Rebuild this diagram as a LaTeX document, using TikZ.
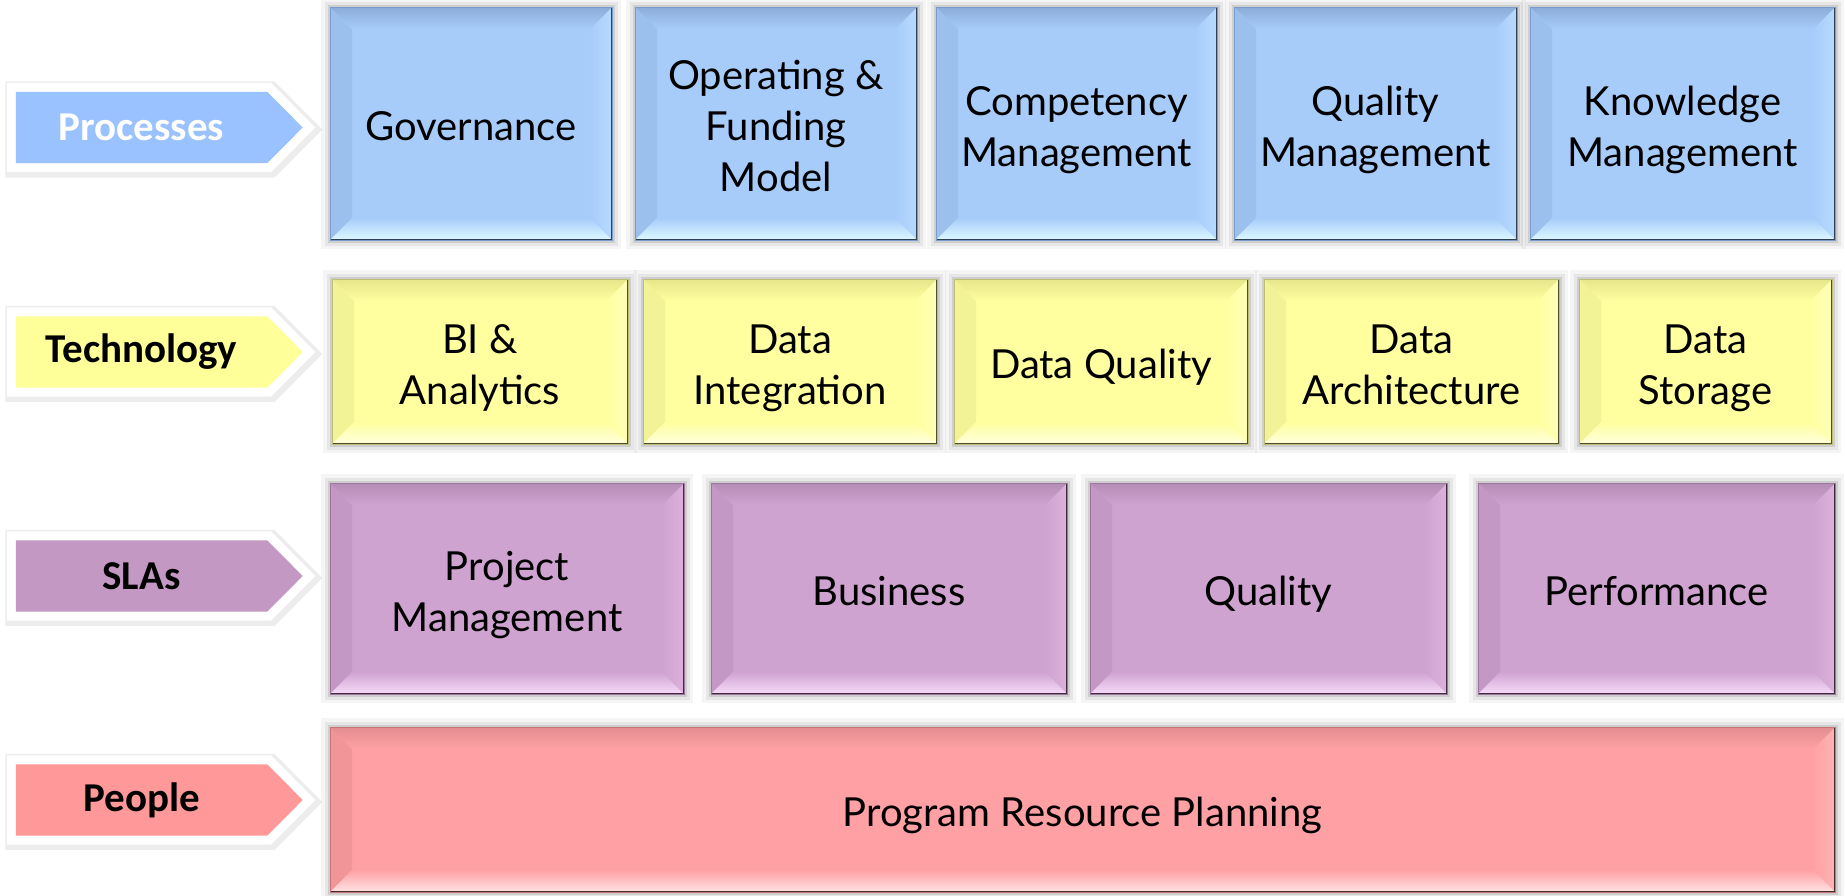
\documentclass[tikz,border=0pt]{standalone}
\usepackage{fontspec}
\setmainfont{Lato}
\newfontfamily\labfont{Carlito}
\usetikzlibrary{calc}
\pgfdeclarelayer{bg}
\pgfsetlayers{bg,main}

% blue
\definecolor{bBase}{HTML}{A7CCFA}\definecolor{bTop}{HTML}{8CACD9}\definecolor{bBot}{HTML}{DDF9FF}
\definecolor{bLeft}{HTML}{9CC0EE}\definecolor{bRight}{HTML}{B8DAFF}\definecolor{bEdge}{HTML}{7A9CC8}\definecolor{bDark}{HTML}{2F3F55}
% yellow
\definecolor{yBase}{HTML}{FFFFA0}\definecolor{yTop}{HTML}{E6E68A}\definecolor{yBot}{HTML}{FFFFDD}
\definecolor{yLeft}{HTML}{F2F296}\definecolor{yRight}{HTML}{FFFFB8}\definecolor{yEdge}{HTML}{BDBD78}\definecolor{yDark}{HTML}{4F4F30}
% purple
\definecolor{pBase}{HTML}{CFA3D0}\definecolor{pTop}{HTML}{B48DB5}\definecolor{pBot}{HTML}{F7DBFA}
\definecolor{pLeft}{HTML}{C398C4}\definecolor{pRight}{HTML}{DBB2DC}\definecolor{pEdge}{HTML}{9F74A0}\definecolor{pDark}{HTML}{3F2A40}
% red
\definecolor{rBase}{HTML}{FFA1A4}\definecolor{rTop}{HTML}{E38D90}\definecolor{rBot}{HTML}{FFE3E5}
\definecolor{rLeft}{HTML}{F29598}\definecolor{rRight}{HTML}{FFB3B6}\definecolor{rEdge}{HTML}{C47578}\definecolor{rDark}{HTML}{4A2C2D}
% labels
\definecolor{lblB}{HTML}{99C2FF}\definecolor{lblY}{HTML}{FFFF99}\definecolor{lblP}{HTML}{C399C4}\definecolor{lblR}{HTML}{FF9999}

\newcommand\tagpath[1]{(#1.north west) -- (#1.north east) -- ($(#1.east)+(35.5pt,0pt)$) -- (#1.south east) -- (#1.south west) -- cycle}
\newcommand\bt[1]{\raisebox{-7pt}[\height][\depth]{\begin{tabular}{@{}c@{}}#1\end{tabular}}}

\tikzset{
  glow/.style={
    preaction={draw=black,draw opacity=0.04,line width=18pt},
    preaction={draw=black,draw opacity=0.06,line width=11pt},
    preaction={draw=black,draw opacity=0.10,line width=5pt}},
  bev/.style={glow, rectangle, fill=#1Base, draw=#1Edge, line width=1pt,
    inner sep=0pt, outer sep=0pt, text=black,
    font=\fontsize{40}{51}\selectfont,
    path picture={
      \coordinate (bvNW) at (path picture bounding box.north west);
      \coordinate (bvNE) at (path picture bounding box.north east);
      \coordinate (bvSW) at (path picture bounding box.south west);
      \coordinate (bvSE) at (path picture bounding box.south east);
      \fill[#1Left] (bvNW) -- ($(bvNW)+(22pt,-22pt)$) -- ($(bvSW)+(22pt,22pt)$) -- (bvSW) -- cycle;
      \shade[left color=#1Base, right color=#1Right] (bvNE) -- ($(bvNE)+(-22pt,-22pt)$) -- ($(bvSE)+(-22pt,22pt)$) -- (bvSE) -- cycle;
      \shade[top color=#1Top, bottom color=#1Base] (bvNW) -- (bvNE) -- ($(bvNE)+(-22pt,-22pt)$) -- ($(bvNW)+(22pt,-22pt)$) -- cycle;
      \shade[top color=#1Base, bottom color=#1Bot] (bvSW) -- (bvSE) -- ($(bvSE)+(-22pt,22pt)$) -- ($(bvSW)+(22pt,22pt)$) -- cycle;
      \draw[#1Dark, line width=3pt] (bvSW) -- (bvSE) -- (bvNE);
    }},
  lab/.style={rectangle, minimum width=251pt, minimum height=71pt, inner sep=0pt,
    font=\labfont\bfseries\fontsize{41}{44}\selectfont},
}

\begin{document}
\begin{tikzpicture}[x=1pt,y=-1pt]
\useasboundingbox (0,0) rectangle (1845,895);

% ---- labels
\node[lab, text=white] (lproc) at (141.5,127.5) {Processes};
\node[lab, text=black] (ltech) at (141.5,352) {Technology};
\node[lab, text=black] (lsla)  at (141.5,576) {SLAs};
\node[lab, text=black] (lpeop) at (141.5,800) {People};

\begin{pgfonlayer}{bg}
\fill[white] (0,0) rectangle (1845,895);
\foreach \L/\C in {lproc/lblB, ltech/lblY, lsla/lblP, lpeop/lblR}{
  \draw[black, draw opacity=0.07, line width=25pt, line join=miter] ([shift={(2pt,-2pt)}]\L.north west) -- ([shift={(2pt,-2pt)}]\L.north east) -- ($(\L.east)+(37.5pt,-2pt)$) -- ([shift={(2pt,-2pt)}]\L.south east) -- ([shift={(2pt,-2pt)}]\L.south west) -- cycle;
  \draw[white, fill=white, line width=18pt, line join=miter] \tagpath{\L};
  \fill[\C] \tagpath{\L};
}
\end{pgfonlayer}

% ---- Processes row
\node[bev=b, minimum width=282pt, minimum height=233pt] (gov) at (471,123.5) {\bt{Governance}};
\node[bev=b, minimum width=282pt, minimum height=233pt] (ofm) at (776,123.5) {\bt{Operating \&\\Funding\\Model}};
\node[bev=b, minimum width=281pt, minimum height=233pt] (cmp) at (1076.5,123.5) {\bt{Competency\\Management}};
\node[bev=b, minimum width=283pt, minimum height=233pt] (qmg) at (1375.5,123.5) {\bt{Quality\\Management}};
\node[bev=b, minimum width=305pt, minimum height=233pt] (kmg) at (1682.5,123.5) {\bt{Knowledge\\Management}};

% ---- Technology row
\node[bev=y, minimum width=296pt, minimum height=165pt] (bia) at (480,361.5) {\bt{BI \&\\Analytics}};
\node[bev=y, minimum width=294pt, minimum height=165pt] (din) at (790,361.5) {\bt{Data\\Integration}};
\node[bev=y, minimum width=294pt, minimum height=165pt] (dql) at (1101,361.5) {\bt{Data Quality}};
\node[bev=y, minimum width=295pt, minimum height=165pt] (dar) at (1411.5,361.5) {\bt{Data\\Architecture}};
\node[bev=y, minimum width=253pt, minimum height=165pt] (dst) at (1705.5,361.5) {\bt{Data\\Storage}};

% ---- SLAs row
\node[bev=p, minimum width=354pt, minimum height=211pt] (prj) at (507,588.5) {\bt{Project\\Management}};
\node[bev=p, minimum width=356pt, minimum height=211pt] (bus) at (889,588.5) {\bt{Business}};
\node[bev=p, minimum width=357pt, minimum height=211pt] (qal) at (1268.5,588.5) {\bt{Quality}};
\node[bev=p, minimum width=357pt, minimum height=211pt] (prf) at (1656.5,588.5) {\bt{Performance}};

% ---- People row
\node[bev=r, minimum width=1505pt, minimum height=165pt] (prp) at (1082.5,809.5) {\bt{Program Resource Planning}};
\end{tikzpicture}
\end{document}
